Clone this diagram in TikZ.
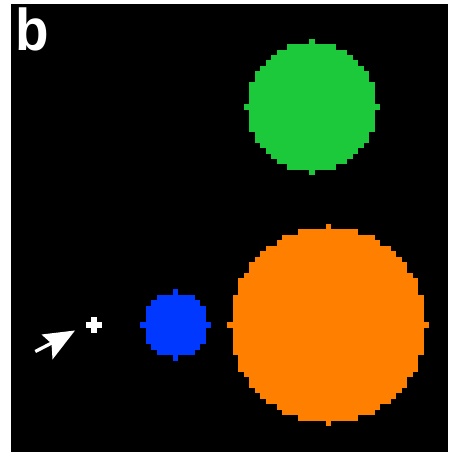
\documentclass[tikz,border=0pt]{standalone}
\usepackage{fontspec}
\usetikzlibrary{calc}
\newfontfamily\panelfont{Liberation Sans}
\definecolor{discgreen}{RGB}{28,201,58}
\definecolor{discorange}{RGB}{255,127,0}
\definecolor{discblue}{RGB}{0,56,255}
\newcommand\cs{5.45}
\newcommand\pixdisc[4]{%
  \foreach \dy in {-#3,...,#3}{%
    \pgfmathsetmacro\half{floor(sqrt(#3*#3-(\dy)*(\dy))+0.001)}%
    \fill[#4] ({#1-(\half+0.5)*\cs},{#2+(\dy-0.5)*\cs-0.25}) rectangle ({#1+(\half+0.5)*\cs},{#2+(\dy+0.5)*\cs+0.25});
  }%
}
\begin{document}
\begin{tikzpicture}[x=1pt,y=-1pt]
\useasboundingbox (0,0) rectangle (449,454);
\fill[white] (0,0) rectangle (449,454);
\fill[black] (11,4) rectangle (448,452);
% discs on a common pixel grid
\pixdisc{328.3}{325}{18}{discorange}
\pixdisc{311.95}{107}{12}{discgreen}
\pixdisc{175.7}{325}{6}{discblue}
% plus marker
\coordinate (plus) at (93.95,325);
\fill[white] ([xshift=-1.5*\cs pt,yshift=0.5*\cs pt]plus) rectangle ([xshift=1.5*\cs pt,yshift=-0.5*\cs pt]plus);
\fill[white] ([xshift=-0.5*\cs pt,yshift=1.5*\cs pt]plus) rectangle ([xshift=0.5*\cs pt,yshift=-1.5*\cs pt]plus);
% arrow
\coordinate (tip) at (75,330.5);
\coordinate (tail) at (35.3,351.5);
\coordinate (notch) at (51.5,343.5);
\fill[white] (tip) -- (41.5,334.5) -- (notch) -- (52.5,359.5) -- cycle;
\draw[white,line width=3.3pt] (tail) -- ($(notch)!0.5!(tip)$);
% panel label
\node[anchor=north west,inner sep=0pt,text=white,xscale=0.93] (label) at (15.6,8) {\panelfont\bfseries\fontsize{59}{59}\selectfont b};
\end{tikzpicture}
\end{document}
